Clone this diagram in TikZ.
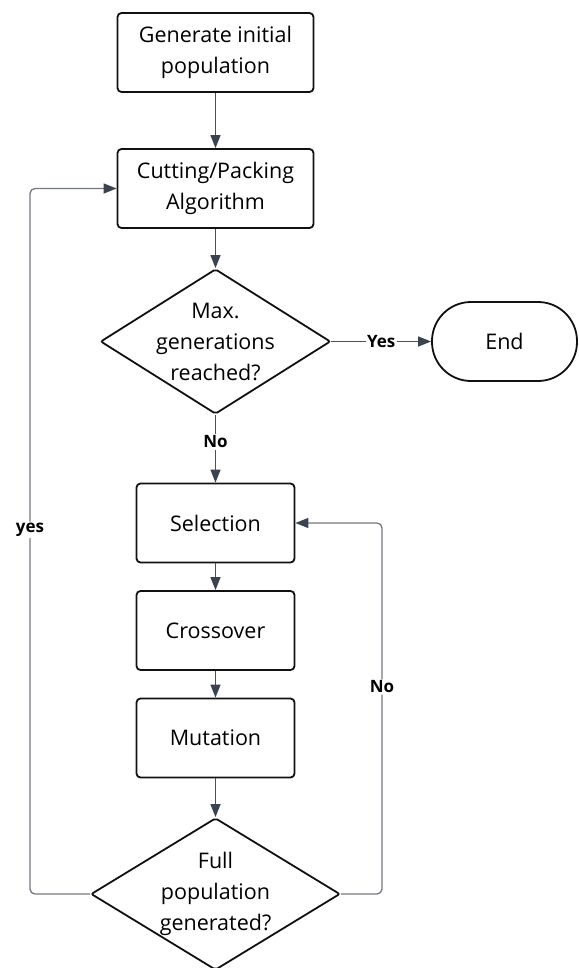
\documentclass[tikz,border=0pt]{standalone}
\usepackage{fontspec}
\setmainfont{Open Sans}
\usetikzlibrary{shapes.geometric,arrows.meta,calc}
\definecolor{boxline}{HTML}{111111}
\definecolor{flowline}{HTML}{4A515C}
\definecolor{looplineclr}{HTML}{73787F}
\definecolor{tipclr}{HTML}{3B4350}
\tikzset{
  x=1pt, y=1pt,
  every node/.style={font=\fontsize{21.5}{31}\selectfont, text=black},
  procbox/.style={draw=boxline, line width=1.8pt, rounded corners=4pt, align=center,
    minimum height=79pt, inner sep=0pt},
  % negative inner sep lets the minimum sizes fix the diamond outline
  decision/.style={diamond, draw=boxline, line width=1.8pt, rounded corners=2pt, align=center,
    inner sep=-30pt},
  terminal/.style={draw=boxline, line width=1.8pt, rounded corners=39pt,
    minimum width=145pt, minimum height=79pt, inner sep=0pt},
  flow/.style={draw=flowline, line width=1.3pt,
    -{Triangle[length=13pt,width=10pt,fill=tipclr,color=tipclr]}},
  loopflow/.style={draw=looplineclr, line width=1.3pt, rounded corners=5pt,
    -{Triangle[length=13pt,width=10pt,fill=tipclr,color=tipclr]}},
  lbl/.style={font=\fontsize{17}{20}\selectfont\bfseries, fill=white, inner sep=1.5pt},
}
\begin{document}
\begin{tikzpicture}
  \useasboundingbox (0,0) rectangle (578,-968);

  % process steps
  \node[procbox, minimum width=196pt] (gen) at (215.5,-52.5) {Generate initial\\population};
  \node[procbox, minimum width=196pt] (cut) at (215.5,-188.5) {Cutting/Packing\\Algorithm};
  \node[decision, minimum width=230pt, minimum height=145pt] (maxg) at (215.5,-341.5)
    {Max.\\generations\\reached?};
  \node[terminal] (end) at (504.5,-341.5) {End};
  \node[procbox, minimum width=158pt] (sel) at (215.5,-523) {Selection};
  \node[procbox, minimum width=158pt] (cross) at (215.5,-630.5) {Crossover};
  \node[procbox, minimum width=158pt] (mut) at (215.5,-738) {Mutation};
  \node[decision, minimum width=249pt, minimum height=152pt] (full) at (215.5,-894)
    {Full\\population\\generated?};

  % columns of the two feedback loops
  \coordinate (leftcol) at (30,0);
  \coordinate (rightcol) at (382,0);

  % main flow
  \draw[flow] (gen) -- (cut);
  \draw[flow] (cut) -- (maxg.north);
  \draw[flow] (maxg.east) -- node[lbl] {Yes} (end.west);
  \draw[flow] (maxg.south) -- node[lbl, pos=0.4] {No} (sel.north);
  \draw[flow] (sel) -- (cross);
  \draw[flow] (cross) -- (mut);
  \draw[flow] (mut) -- (full.north);

  % feedback loops
  \draw[loopflow] (full.west) -- (full.west -| leftcol)
    -- node[lbl, pos=0.516] {yes} (cut.west -| leftcol) -- (cut.west);
  \draw[loopflow] (full.east) -- (full.east -| rightcol)
    -- node[lbl, pos=0.558] {No} (sel.east -| rightcol) -- (sel.east);
\end{tikzpicture}
\end{document}
